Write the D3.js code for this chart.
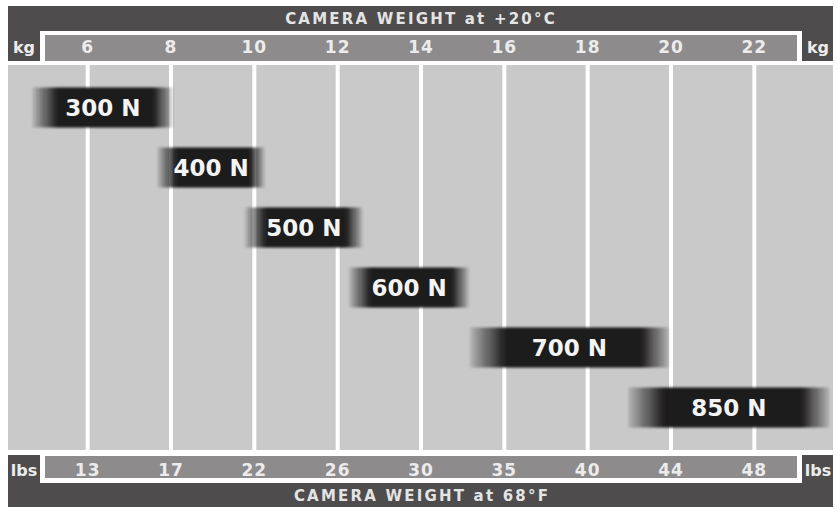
<!DOCTYPE html>
<html>
<head>
  <meta charset="utf-8">
  <script src="https://cdn.jsdelivr.net/npm/d3@7"></script>
  <style>
    body { margin: 0; background: #fff; }
    svg text { font-family: "DejaVu Sans", Verdana, sans-serif; font-weight: bold; }
  </style>
</head>
<body>
<script>
  // chart data
  var kgTicks = [6, 8, 10, 12, 14, 16, 18, 20, 22];
  var lbsLabels = ["13", "17", "22", "26", "30", "35", "40", "44", "48"];
  var loads = ["300 N", "400 N", "500 N", "600 N", "700 N", "850 N"];
  var kgFrom = [4.7, 7.7, 9.8, 12.3, 15.2, 19.0];
  var kgTo = [8.05, 10.25, 12.6, 15.15, 19.95, 23.8];

  var W = 837, H = 509;
  var left = 8, right = 833;
  var plotTop = 65, plotBottom = 450;

  var dark = "#4e4c4d", strip = "#8d8b8c", plotBg = "#c9c9c9", labelCol = "#ececec";

  var svg = d3.select("body").append("svg")
    .attr("width", W).attr("height", H);

  var defs = svg.append("defs");
  var grad = defs.append("linearGradient").attr("id", "barGrad")
    .attr("x1", "0%").attr("x2", "100%").attr("y1", "0%").attr("y2", "0%");
  [[0, 0.15], [0.18, 1], [0.86, 1], [1, 0.15]].forEach(function(s) {
    grad.append("stop").attr("offset", s[0]).attr("stop-color", "#1b1a1b").attr("stop-opacity", s[1]);
  });
  defs.append("filter").attr("id", "soft")
    .attr("x", "-5%").attr("y", "-20%").attr("width", "110%").attr("height", "140%")
    .append("feGaussianBlur").attr("stdDeviation", "1.6 1");

  var x = d3.scaleLinear().domain([4.1, 23.9]).range([left, right]);
  var y = d3.scalePoint().domain(loads).range([107.5, 407.5]);
  var barH = 40;

  // top band
  svg.append("rect").attr("x", left).attr("y", 6).attr("width", right - left).attr("height", 55).attr("fill", dark);
  svg.append("rect").attr("x", 40).attr("y", 31).attr("width", 762).attr("height", 30).attr("fill", "#fff");
  svg.append("rect").attr("x", 45).attr("y", 35).attr("width", 752).attr("height", 26).attr("fill", strip);

  // bottom band
  svg.append("rect").attr("x", left).attr("y", 455).attr("width", right - left).attr("height", 52).attr("fill", dark);
  svg.append("rect").attr("x", 40).attr("y", 455).attr("width", 762).attr("height", 28).attr("fill", "#fff");
  svg.append("rect").attr("x", 45).attr("y", 456).attr("width", 752).attr("height", 22).attr("fill", strip);

  // plot area
  svg.append("rect").attr("x", left).attr("y", plotTop).attr("width", right - left)
    .attr("height", plotBottom - plotTop).attr("fill", plotBg);

  // gridlines
  svg.append("g").attr("transform", "translate(0," + plotBottom + ")")
    .call(d3.axisBottom(x).tickValues(kgTicks).tickSize(-(plotBottom - plotTop)).tickFormat(""))
    .call(function(g) {
      g.select(".domain").remove();
      g.selectAll("line").attr("stroke", "#fff").attr("stroke-width", 4);
    });

  // kg axis
  svg.append("g").attr("transform", "translate(0,53)")
    .call(d3.axisTop(x).tickValues(kgTicks).tickSize(0).tickPadding(0))
    .call(function(g) {
      g.select(".domain").remove();
      g.selectAll("text").attr("fill", labelCol).attr("font-size", 17)
        .attr("font-family", null).attr("dy", 0).style("letter-spacing", "1px");
    });

  // lbs axis
  svg.append("g").attr("transform", "translate(0,476)")
    .call(d3.axisTop(x).tickValues(kgTicks).tickSize(0).tickPadding(0)
      .tickFormat(function(d, i) { return lbsLabels[i]; }))
    .call(function(g) {
      g.select(".domain").remove();
      g.selectAll("text").attr("fill", labelCol).attr("font-size", 17)
        .attr("font-family", null).attr("dy", 0).style("letter-spacing", "1px");
    });

  // unit labels
  [["kg", 24, 53], ["kg", 818, 53], ["lbs", 24, 476], ["lbs", 818, 476]].forEach(function(u) {
    svg.append("text").attr("x", u[1]).attr("y", u[2]).attr("text-anchor", "middle")
      .attr("fill", labelCol).attr("font-size", 16).text(u[0]);
  });

  // titles
  svg.append("text").attr("x", 421).attr("y", 24).attr("text-anchor", "middle")
    .attr("fill", "#e4e4e4").attr("font-size", 15).style("letter-spacing", "2.2px")
    .text("CAMERA WEIGHT at +20°C");
  svg.append("text").attr("x", 422).attr("y", 501).attr("text-anchor", "middle")
    .attr("fill", "#e4e4e4").attr("font-size", 15).style("letter-spacing", "2.2px")
    .text("CAMERA WEIGHT at 68°F");

  // load bars
  var bars = svg.append("g").selectAll("g").data(loads).enter().append("g");
  bars.append("rect")
    .attr("x", function(d, i) { return x(kgFrom[i]); })
    .attr("y", function(d) { return y(d) - barH / 2; })
    .attr("width", function(d, i) { return x(kgTo[i]) - x(kgFrom[i]); })
    .attr("height", barH)
    .attr("fill", "url(#barGrad)")
    .attr("filter", "url(#soft)");
  bars.append("text")
    .attr("x", function(d, i) { return (x(kgFrom[i]) + x(kgTo[i])) / 2; })
    .attr("y", function(d) { return y(d) + 8.5; })
    .attr("text-anchor", "middle")
    .attr("fill", "#f4f4f4")
    .attr("font-size", 23)
    .text(function(d) { return d; });
</script>
</body>
</html>
